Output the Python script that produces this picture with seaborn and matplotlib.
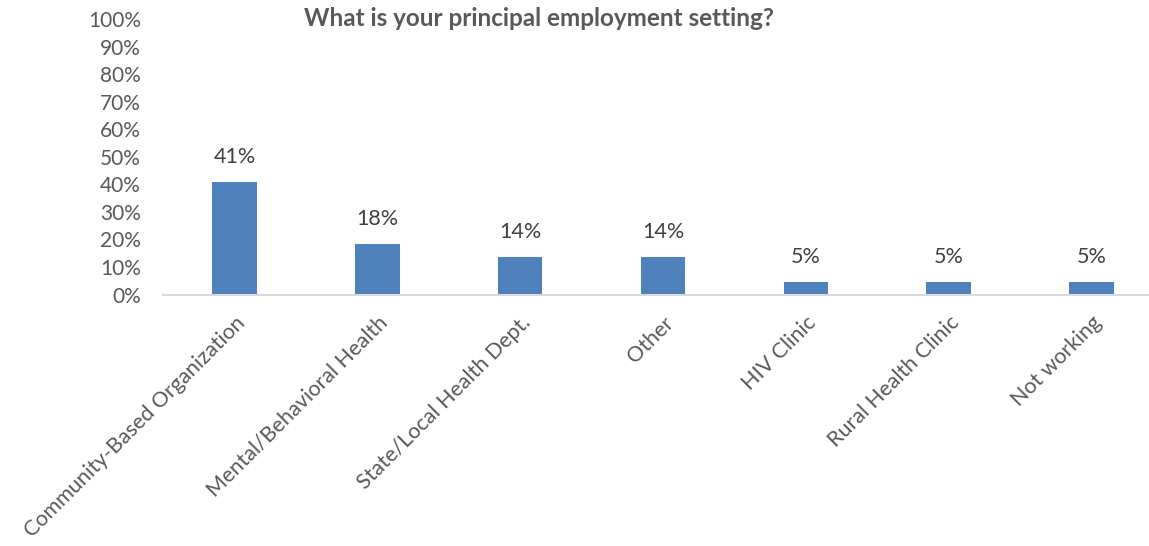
import matplotlib
matplotlib.use("Agg")
import matplotlib.pyplot as plt
import seaborn as sns
import pandas as pd
from matplotlib.ticker import PercentFormatter

categories = ["Community-Based Organization", "Mental/Behavioral Health",
              "State/Local Health Dept.", "Other", "HIV Clinic",
              "Rural Health Clinic", "Not working"]
values = [40.9, 18.2, 13.6, 13.6, 4.5, 4.5, 4.5]
labels = ["41%", "18%", "14%", "14%", "5%", "5%", "5%"]
title = "What is your principal employment setting?"

sns.set_theme(style="white")
plt.rcParams['font.family'] = ['Lato', 'DejaVu Sans']
text_color = "#595959"

df = pd.DataFrame({"cat": categories, "val": values})

fig = plt.figure(figsize=(11.49, 5.46), dpi=100)
ax = fig.add_axes([0.1419, 0.4606, 0.8703, 0.5046])

sns.barplot(data=df, x="cat", y="val", color="#4F81BD", width=0.312,
            saturation=1, ax=ax, edgecolor="none")

for i, (v, lab) in enumerate(zip(values, labels)):
    ax.annotate(lab, (i, v), xytext=(0, 11), textcoords="offset points",
                ha="center", va="bottom", fontsize=15.5, color="#404040")

ax.set_xlim(-0.5, 6.5)
ax.set_ylim(0, 100)
ax.set_yticks(range(0, 101, 10))
ax.yaxis.set_major_formatter(PercentFormatter(decimals=0))
ax.set_xlabel("")
ax.set_ylabel("")
for s in ["left", "right", "top"]:
    ax.spines[s].set_visible(False)
ax.spines["bottom"].set_color("#D9D9D9")
ax.spines["bottom"].set_linewidth(1.5)
ax.tick_params(axis="y", length=0, pad=16, labelsize=15, colors=text_color)
ax.tick_params(axis="x", length=0, pad=13, labelsize=15.5, colors=text_color)
plt.setp(ax.get_xticklabels(), rotation=45, ha="right", rotation_mode="anchor")

fig.text(0.469, 0.966, title, ha="center", va="center", fontsize=17.5,
         fontweight="bold", color=text_color)

fig.savefig("out.png", dpi=100)
